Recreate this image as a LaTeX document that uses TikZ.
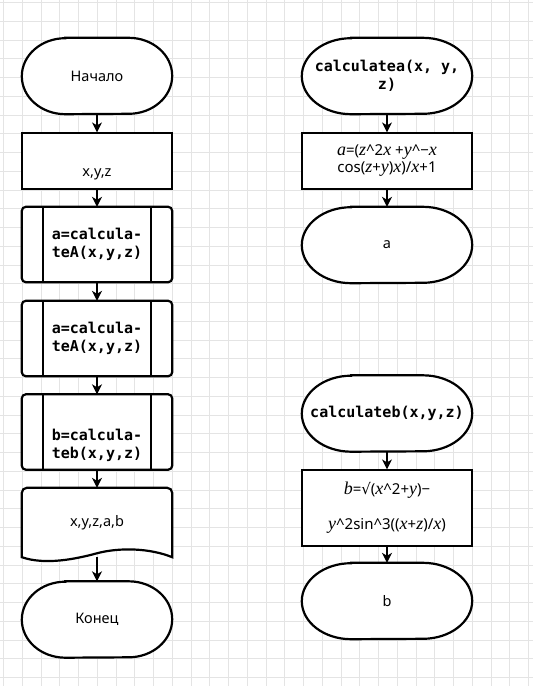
\documentclass[tikz,border=0pt]{standalone}
\usepackage{fontspec}
\setmainfont{Noto Sans}
\newfontfamily\codefont{DejaVu Sans Mono}
\newfontfamily\varfont{Liberation Serif}[Scale=1.2]
\newfontfamily\symfont{DejaVu Sans}
\usetikzlibrary{arrows.meta}
\definecolor{gridgray}{HTML}{E4E4E4}
\newcommand{\mv}[1]{{\varfont\itshape #1}}
\newcommand{\caret}{\textasciicircum}
\tikzset{
 gridrule/.style={draw=gridgray, line width=0.8pt},
 shapeline/.style={line width=2.2pt, draw=black, fill=white},
 flowarrow/.style={line width=1.3pt, -{Stealth[length=10pt, width=10pt, inset=3pt]}},
 labeltext/.style={font=\fontsize{14.5}{20}\selectfont, align=center, inner sep=0pt},
 codetext/.style={font=\codefont\bfseries\fontsize{15}{18}\selectfont, align=center, inner sep=0pt},
 mathtext/.style={font=\fontsize{15}{17}\selectfont, align=center, inner sep=0pt},
 terminal/.style={minimum width=#1, minimum height=76pt, inner sep=0pt,
  append after command={\pgfextra{
   \draw[shapeline] ([xshift=0.29*#1]\tikzlastnode.north west) -- ([xshift=-0.29*#1]\tikzlastnode.north east)
    arc[start angle=90, end angle=-90, x radius=0.29*#1, y radius=38pt]
    -- ([xshift=0.29*#1]\tikzlastnode.south west)
    arc[start angle=270, end angle=90, x radius=0.29*#1, y radius=38pt] -- cycle;}}},
 process/.style={draw, line width=1.2pt, fill=white, minimum width=#1, minimum height=56pt},
 subproc/.style={minimum width=150pt, minimum height=75pt,
  append after command={\pgfextra{
   \draw[shapeline, rounded corners=4pt] (\tikzlastnode.south west) rectangle (\tikzlastnode.north east);
   \draw[shapeline] ([xshift=21pt]\tikzlastnode.north west) -- ([xshift=21pt]\tikzlastnode.south west)
    ([xshift=-21pt]\tikzlastnode.north east) -- ([xshift=-21pt]\tikzlastnode.south east);}}},
 docshape/.style={minimum width=150pt, minimum height=69pt,
  append after command={\pgfextra{
   \draw[shapeline] (\tikzlastnode.south west) -- ([yshift=-5pt]\tikzlastnode.north west)
    arc[start angle=180, end angle=90, radius=5pt] -- ([xshift=-5pt]\tikzlastnode.north east)
    arc[start angle=90, end angle=0, radius=5pt] -- (\tikzlastnode.south east)
    .. controls ([shift={(-22pt,9pt)}]\tikzlastnode.south east) and ([shift={(-52pt,10pt)}]\tikzlastnode.south east)
    .. ([shift={(-75pt,4pt)}]\tikzlastnode.south east)
    .. controls ([shift={(-97pt,-2pt)}]\tikzlastnode.south east) and ([shift={(-127pt,-8pt)}]\tikzlastnode.south east)
    .. (\tikzlastnode.south west) -- cycle;}}}
}
\begin{document}
\begin{tikzpicture}[x=1pt, y=-1pt]
 \useasboundingbox (0,0) rectangle (533,686);
 \fill[white] (0,0) rectangle (533,686);
 % grid
 \foreach \gx in {0,...,28} \draw[gridrule] ({3.5+18.75*\gx},0) -- ({3.5+18.75*\gx},686);
 \foreach \gy in {0,...,36} \draw[gridrule] (0,{2.5+18.75*\gy}) -- (533,{2.5+18.75*\gy});

 % main program
 \node[terminal=150pt, labeltext] (start) at (97,76) {Начало};
 \node[process=150pt, labeltext] (inp) at (97,161) {\strut\\x,y,z};
 \node[subproc, codetext] (calla) at (97,244.5) {a=calcula-\\teA(x,y,z)};
 \node[subproc, codetext] (callb) at (97,338.5) {a=calcula-\\teA(x,y,z)};
 \node[subproc, codetext] (callc) at (97,432) {\strut\\[8pt]b=calcula-\\teb(x,y,z)};
 \node[docshape, labeltext] (outp) at (97,522.5) {x,y,z,a,b};
 \node[terminal=150pt, labeltext] (finish) at (97,619.5) {Конец};

 % function a
 \node[terminal=170pt, codetext] (funca) at (387,76) {calculatea(x, y,\\z)};
 \node[process=170pt, mathtext] (calca) at (387,161)
  {\mv{a}=(\mv{z}\caret2\mv{x} +\mv{y}\caret−\mv{x}\\cos(\mv{z}+\mv{y})\mv{x})/\mv{x}+1};
 \node[terminal=170pt, labeltext] (reta) at (387,245) {a};

 % function b
 \node[terminal=170pt, codetext] (funcb) at (387,413.5) {calculateb(x,y,z)};
 \node[process=170pt, mathtext, minimum height=76pt] (calcb) at (387,508)
  {\mv{b}={\symfont √}(\mv{x}\caret2+\mv{y})−\\[18pt]\mv{y}\caret2sin\caret3((\mv{x}+\mv{z})/\mv{x})};
 \node[terminal=170pt, labeltext] (retb) at (387,601) {b};

 \draw[flowarrow] (start) -- (inp);
 \draw[flowarrow] (inp) -- (calla);
 \draw[flowarrow] (calla) -- (callb);
 \draw[flowarrow] (callb) -- (callc);
 \draw[flowarrow] (callc) -- (outp);
 \draw[flowarrow] (outp) -- (finish);
 \draw[flowarrow] (funca) -- (calca);
 \draw[flowarrow] (calca) -- (reta);
 \draw[flowarrow] (funcb) -- (calcb);
 \draw[flowarrow] (calcb) -- (retb);
\end{tikzpicture}
\end{document}
